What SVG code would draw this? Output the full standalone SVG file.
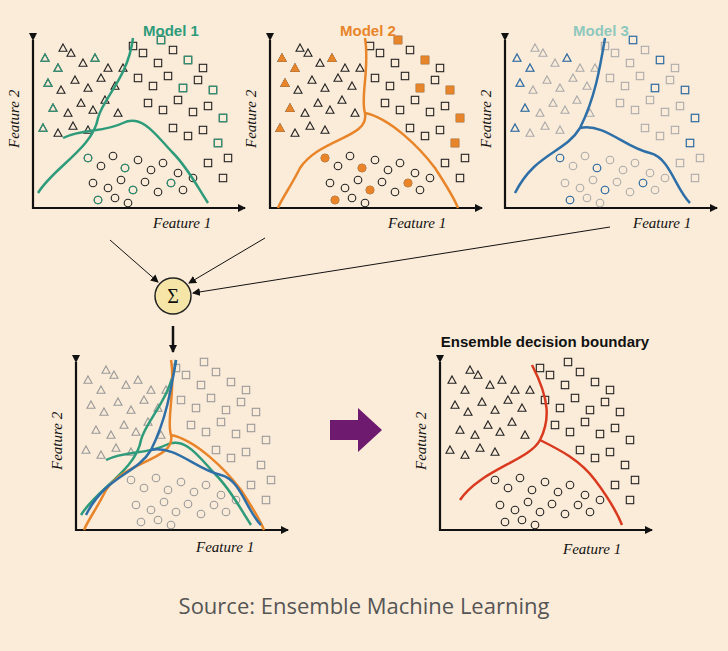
<svg xmlns="http://www.w3.org/2000/svg" width="728" height="651" viewBox="0 0 728 651">
<style>
.ax{stroke:#111;stroke-width:2.2;fill:none}
.fl{font-family:"Liberation Serif",serif;font-style:italic;font-size:15px;fill:#111}
.mt{font-family:"Liberation Sans",sans-serif;font-weight:bold;font-size:15px}
.pt{fill:none;stroke-width:1.1}
.bd{fill:none;stroke-width:2.5}
.conn{stroke:#111;stroke-width:1;fill:none}
</style>
<defs>
<marker id="ah" markerWidth="8" markerHeight="8" refX="7" refY="4" orient="auto" markerUnits="userSpaceOnUse"><path d="M0,0L8,4L0,8Z" fill="#111"/></marker>
<path id="t" d="M0,-4L4,3.2L-4,3.2Z"/>
<rect id="s" x="-3.7" y="-3.7" width="7.4" height="7.4"/>
<circle id="c" r="3.8"/>
<g id="pts">
<use href="#t" x="12" y="-150"/><use href="#t" x="25" y="-140"/><use href="#t" x="38" y="-155"/><use href="#t" x="50" y="-145"/><use href="#t" x="62" y="-150"/><use href="#t" x="75" y="-140"/><use href="#t" x="15" y="-125"/><use href="#t" x="28" y="-118"/><use href="#t" x="42" y="-128"/><use href="#t" x="55" y="-120"/><use href="#t" x="68" y="-130"/><use href="#t" x="82" y="-122"/><use href="#t" x="20" y="-100"/><use href="#t" x="35" y="-95"/><use href="#t" x="48" y="-105"/><use href="#t" x="60" y="-98"/><use href="#t" x="72" y="-108"/><use href="#t" x="10" y="-80"/><use href="#t" x="25" y="-75"/><use href="#t" x="40" y="-82"/><use href="#t" x="55" y="-78"/><use href="#t" x="85" y="-95"/><use href="#t" x="90" y="-140"/><use href="#t" x="30" y="-160"/>
<use href="#s" x="110" y="-155"/><use href="#s" x="125" y="-145"/><use href="#s" x="140" y="-158"/><use href="#s" x="155" y="-148"/><use href="#s" x="170" y="-140"/><use href="#s" x="105" y="-130"/><use href="#s" x="120" y="-122"/><use href="#s" x="135" y="-132"/><use href="#s" x="150" y="-120"/><use href="#s" x="165" y="-128"/><use href="#s" x="180" y="-118"/><use href="#s" x="115" y="-105"/><use href="#s" x="130" y="-98"/><use href="#s" x="145" y="-108"/><use href="#s" x="160" y="-96"/><use href="#s" x="175" y="-102"/><use href="#s" x="190" y="-90"/><use href="#s" x="140" y="-80"/><use href="#s" x="155" y="-72"/><use href="#s" x="170" y="-78"/><use href="#s" x="185" y="-65"/><use href="#s" x="195" y="-50"/><use href="#s" x="175" y="-45"/><use href="#s" x="190" y="-30"/><use href="#s" x="100" y="-162"/><use href="#s" x="128" y="-168"/>
<use href="#c" x="55" y="-50"/><use href="#c" x="68" y="-42"/><use href="#c" x="80" y="-52"/><use href="#c" x="92" y="-40"/><use href="#c" x="105" y="-48"/><use href="#c" x="118" y="-38"/><use href="#c" x="130" y="-45"/><use href="#c" x="60" y="-25"/><use href="#c" x="75" y="-20"/><use href="#c" x="88" y="-28"/><use href="#c" x="100" y="-18"/><use href="#c" x="112" y="-26"/><use href="#c" x="125" y="-16"/><use href="#c" x="138" y="-25"/><use href="#c" x="150" y="-18"/><use href="#c" x="65" y="-8"/><use href="#c" x="82" y="-10"/><use href="#c" x="95" y="-5"/><use href="#c" x="145" y="-35"/><use href="#c" x="160" y="-30"/>
</g>
<g id="hl">
<use href="#t" x="12" y="-150"/><use href="#t" x="25" y="-140"/><use href="#t" x="15" y="-125"/><use href="#t" x="20" y="-100"/><use href="#t" x="10" y="-80"/><use href="#t" x="62" y="-150"/>
<use href="#s" x="155" y="-148"/><use href="#s" x="180" y="-118"/><use href="#s" x="190" y="-90"/><use href="#s" x="185" y="-65"/><use href="#s" x="150" y="-120"/><use href="#s" x="128" y="-168"/>
<use href="#c" x="55" y="-50"/><use href="#c" x="65" y="-8"/><use href="#c" x="100" y="-18"/><use href="#c" x="138" y="-25"/><use href="#c" x="92" y="-40"/>
</g>
<path id="axes" d="M0,-168V0H212" class="ax" marker-start="url(#ah)" marker-end="url(#ah)"/>
</defs>
<rect width="728" height="651" fill="#fbecd9"/>
<g id="plot1" transform="translate(33,208)">
<use href="#axes"/>
<g class="pt" stroke="#222"><use href="#pts"/></g>
<g class="pt" stroke="#2e9b7b" stroke-width="2.6"><use href="#hl"/></g>
<path class="bd" stroke="#2e9b7b" d="M100,-170C95,-130 70,-110 65,-90C60,-60 20,-40 5,-15M30,-70C50,-80 70,-75 90,-85C110,-95 125,-70 140,-55C155,-40 165,-20 175,-5"/>
<text class="mt" x="110" y="-172" fill="#2e9b7b">Model 1</text>
<text class="fl" x="120" y="20">Feature 1</text>
<text class="fl" transform="translate(-14,-60) rotate(-90)">Feature 2</text>
</g>
<g id="plot2" transform="translate(270,208)">
<use href="#axes"/>
<g class="pt" stroke="#222"><use href="#pts"/></g>
<g fill="#e8852a" stroke="#e8852a"><use href="#hl"/></g>
<path class="bd" stroke="#e8852a" stroke-width="1.5" d="M95,-170C100,-140 90,-110 95,-95C100,-70 50,-70 30,-40C20,-20 12,-10 8,0M95,-95C120,-90 150,-60 165,-40C178,-20 185,-8 188,0"/>
<text class="mt" x="70" y="-172" fill="#e8852a">Model 2</text>
<text class="fl" x="118" y="20">Feature 1</text>
<text class="fl" transform="translate(-14,-60) rotate(-90)">Feature 2</text>
</g>
<g id="plot3" transform="translate(505,208)">
<use href="#axes"/>
<g class="pt" stroke="#aaa"><use href="#pts"/></g>
<g class="pt" stroke="#2e6fa8" stroke-width="2.6"><use href="#hl"/></g>
<path class="bd" stroke="#2e6fa8" d="M100,-170C95,-140 90,-110 75,-80C60,-55 30,-55 10,-15M75,-80C100,-85 120,-60 145,-55C165,-50 170,-20 185,-5"/>
<text class="mt" x="68" y="-172" fill="#8fc8bd">Model 3</text>
<text class="fl" x="128" y="20">Feature 1</text>
<text class="fl" transform="translate(-14,-60) rotate(-90)">Feature 2</text>
</g>
<g id="sum">
<circle cx="173" cy="296" r="18" fill="#f5e6a8" stroke="#222" stroke-width="1.5"/>
<text x="173" y="303" text-anchor="middle" font-family="Liberation Serif,serif" font-size="20" fill="#111">Σ</text>
</g>
<g id="connectors">
<path class="conn" d="M110,240L158,282" marker-end="url(#ah)"/>
<path class="conn" d="M265,238L189,283" marker-end="url(#ah)"/>
<path class="conn" d="M610,227L193,293" marker-end="url(#ah)"/>
<path d="M173,326V352" stroke="#111" stroke-width="2.5" marker-end="url(#ah)"/>
<path d="M330,420H358V408L382,430L358,452V440H330Z" fill="#6e1a6e"/>
</g>
<g id="plot4" transform="translate(76,530)">
<use href="#axes"/>
<g class="pt" stroke="#999"><use href="#pts"/></g>
<path class="bd" stroke="#2e9b7b" stroke-width="2" d="M100,-170C95,-130 70,-110 65,-90C60,-60 20,-40 5,-15M30,-70C50,-80 70,-75 90,-85C110,-95 125,-70 140,-55C155,-40 165,-20 175,-5"/>
<path class="bd" stroke="#e8852a" stroke-width="1.5" d="M95,-170C100,-140 90,-110 95,-95C100,-70 50,-70 30,-40C20,-20 12,-10 8,0M95,-95C120,-90 150,-60 165,-40C178,-20 185,-8 188,0"/>
<path class="bd" stroke="#2e6fa8" stroke-width="1.5" d="M100,-170C95,-140 90,-110 75,-80C60,-55 30,-55 10,-15M75,-80C100,-85 120,-60 145,-55C165,-50 170,-20 185,-5"/>
<text class="fl" x="120" y="22">Feature 1</text>
<text class="fl" transform="translate(-14,-60) rotate(-90)">Feature 2</text>
</g>
<g id="plot5" transform="translate(440,530)">
<use href="#axes"/>
<g class="pt" stroke="#222"><use href="#pts"/></g>
<path class="bd" stroke="#d93a1f" d="M92,-165C110,-130 110,-110 100,-90C90,-70 40,-60 20,-30M100,-90C120,-80 140,-70 155,-50C170,-30 178,-15 182,-5"/>
<text class="fl" x="123" y="24">Feature 1</text>
<text class="fl" transform="translate(-14,-60) rotate(-90)">Feature 2</text>
</g>
<text x="545" y="347" text-anchor="middle" font-family="Liberation Sans,sans-serif" font-weight="bold" font-size="15" fill="#111">Ensemble decision boundary</text>
<text x="364" y="614" text-anchor="middle" font-family="Open Sans,sans-serif" font-size="22" fill="#555">Source: Ensemble Machine Learning</text>
</svg>
